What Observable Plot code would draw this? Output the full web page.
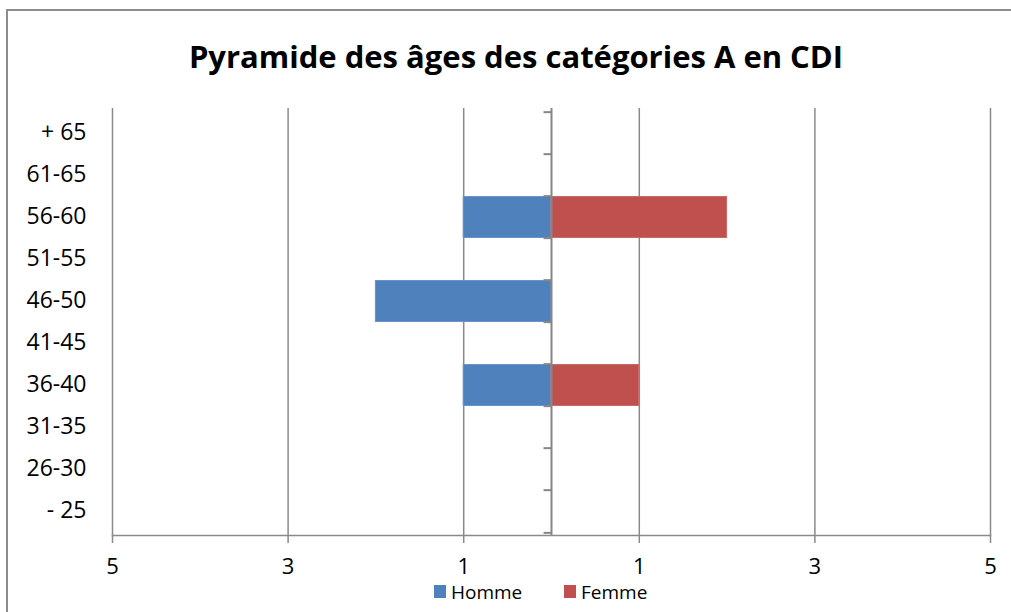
<!DOCTYPE html>
<html><head><meta charset="utf-8">
<script src="https://cdn.jsdelivr.net/npm/d3@7"></script>
<script src="https://cdn.jsdelivr.net/npm/@observablehq/plot@0.6"></script>
<style>
body{margin:0;background:#fff;}
#wrap{position:relative;width:1011px;height:612px;overflow:hidden;font-family:"Open Sans",sans-serif;background:#fff;}
#border{position:absolute;left:6px;top:9px;width:1100px;height:700px;border-left:2px solid #8c8c8c;border-top:2px solid #8c8c8c;}
#chart{position:absolute;left:0;top:0;}
#title{position:absolute;left:0;width:1032px;top:35px;text-align:center;font-weight:bold;font-size:31px;line-height:42px;color:#000;}
#legend{position:absolute;top:583px;left:434px;font-size:19px;line-height:18px;color:#000;white-space:nowrap;}
.item{position:absolute;top:0;}
.sw{position:absolute;top:2px;left:0;width:12px;height:13px;}
.lt{position:absolute;left:17px;top:0;}
</style></head>
<body>
<div id="wrap">
  <div id="border"></div>
  <div id="chart"></div>
  <div id="title">Pyramide des âges des catégories A en CDI</div>
  <div id="legend"></div>
</div>
<script>
const categories = ["+ 65","61-65","56-60","51-55","46-50","41-45","36-40","31-35","26-30","- 25"];
const homme = [0,0,1,0,2,0,1,0,0,0];
const femme = [0,0,2,0,0,0,1,0,0,0];
const series = ["Homme","Femme"];
const colors = ["#4F81BD","#C0504D"];
const xTicks = [-5,-3,-1,1,3,5];

const rows = [];
categories.forEach((c,i)=>{
  if (homme[i]) rows.push({age:c, sex:"Homme", value:-homme[i]});
  if (femme[i]) rows.push({age:c, sex:"Femme", value:femme[i]});
});

const marginTop = 108, marginBottom = 77, H = 612;
const bw = (H - marginTop - marginBottom) / categories.length;

const chart = Plot.plot({
  width: 1011, height: H,
  marginTop, marginBottom, marginLeft: 112, marginRight: 21,
  x: {domain: [-5, 5], label: null},
  y: {domain: categories, padding: 0, label: null},
  color: {domain: series, range: colors},
  style: {fontFamily: "'Open Sans', sans-serif", fontSize: "23px", color: "#000", background: "transparent"},
  marks: [
    Plot.ruleX(xTicks, {stroke: "#8a8a8a", strokeWidth: 1.5}),
    Plot.barX(rows, {y: "age", x: "value", fill: "sex", stroke: d => d.sex === "Homme" ? "#6a94c8" : "#c96a67", strokeWidth: 1, insetTop: 0.5, insetBottom: 0.5}),
    Plot.ruleX([0], {stroke: "#868686", strokeWidth: 2}),
    Plot.ruleY(categories, {y: d => d, x1: -0.085, x2: 0, dy: -bw/2, stroke: "#868686", strokeWidth: 2}),
    Plot.ruleY(categories.slice(-1), {y: d => d, x1: -0.085, x2: 0, dy: bw/2, stroke: "#868686", strokeWidth: 2}),
    Plot.frame({anchor: "bottom", stroke: "#8a8a8a", strokeWidth: 1.5}),
    Plot.axisX({ticks: xTicks, tickFormat: d => Math.abs(d), tickSize: 8, tickPadding: 15, fontSize: 22, stroke: "#8a8a8a", strokeWidth: 1.5, fill: "#000", label: null}),
    Plot.axisY({tickSize: 0, tickPadding: 26, fill: "#000", label: null, dy: -1})
  ]
});
document.getElementById("chart").appendChild(chart);

const legend = document.getElementById("legend");
const lx = [0, 130];
series.forEach((s,i)=>{
  const it = document.createElement("div");
  it.className = "item";
  it.style.left = lx[i] + "px";
  it.innerHTML = `<span class="sw" style="background:${colors[i]}"></span><span class="lt">${s}</span>`;
  legend.appendChild(it);
});
</script>
</body></html>
